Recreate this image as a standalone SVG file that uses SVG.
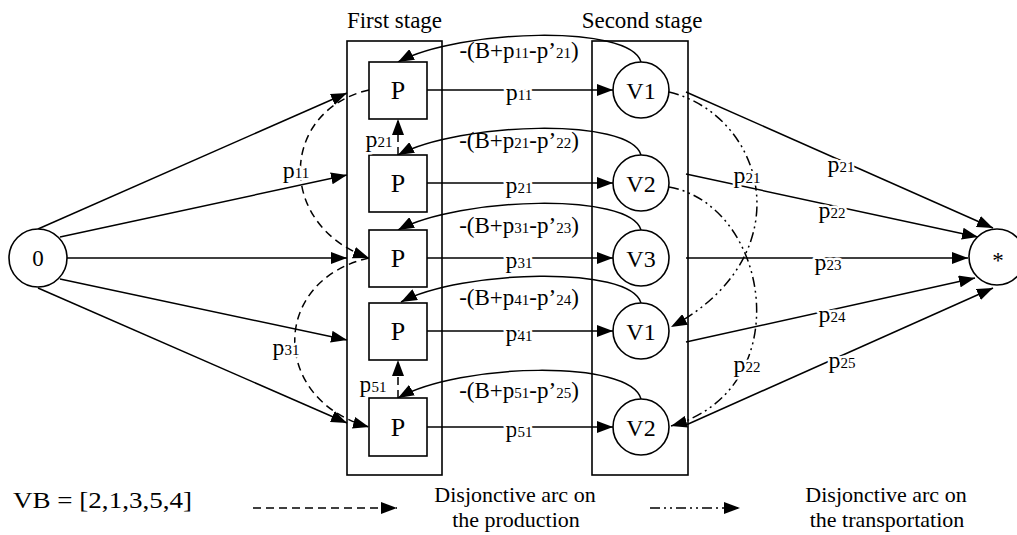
<svg xmlns="http://www.w3.org/2000/svg" width="1017" height="535" viewBox="0 0 1017 535">
<style>
text{font-family:"Liberation Serif","Times New Roman",serif;fill:#000}
.t{font-size:23px}
.m{font-size:24px}
.n{font-size:26px}
.s{font-size:15px}
.l{font-size:22px}
.h{stroke:#fff;stroke-width:5px;paint-order:stroke;stroke-linejoin:round}
.box{fill:none;stroke:#000;stroke-width:1.6}
.nd{fill:#fff;stroke:#000;stroke-width:1.6}
.c{fill:none;stroke:#000;stroke-width:1.5}
.d{stroke-dasharray:8 5}
.dd{stroke-dasharray:10 4 2 4 2 4}
</style>
<defs>
<marker id="ah" viewBox="0 0 16 12" refX="16" refY="6" markerWidth="16" markerHeight="12" markerUnits="userSpaceOnUse" orient="auto"><path d="M0,0 L16,6 L0,12 z" fill="#000"/></marker>
</defs>
<rect width="1017" height="535" fill="#fff"/>
<g id="stage1"><rect class="box" x="347" y="41" width="95" height="434"/><text class="t" x="394.5" y="28" text-anchor="middle">First stage</text></g>
<g id="stage2"><rect class="box" x="592" y="41" width="96" height="434"/><text class="t" x="642" y="28" text-anchor="middle">Second stage</text></g>
<g id="connectors">
<path class="c" d="M38,229 L347,93" marker-end="url(#ah)"/>
<path class="c" d="M60,237 L347,175" marker-end="url(#ah)"/>
<path class="c" d="M67,258 L347,258" marker-end="url(#ah)"/>
<path class="c" d="M60,279 L347,340" marker-end="url(#ah)"/>
<path class="c" d="M38,288 L347,423" marker-end="url(#ah)"/>
<path class="c d" d="M369,90 C280,110 275,225 369,258" marker-end="url(#ah)"/>
<path class="c d" d="M369,258 C270,280 270,400 369,427" marker-end="url(#ah)"/>
<path class="c d" d="M398,155 L398,119" marker-end="url(#ah)"/>
<path class="c d" d="M398,398 L398,360" marker-end="url(#ah)"/>
<path class="c" d="M427,90 L613,90" marker-end="url(#ah)"/>
<path class="c" d="M427,183 L613,183" marker-end="url(#ah)"/>
<path class="c" d="M427,258 L613,258" marker-end="url(#ah)"/>
<path class="c" d="M427,331 L613,331" marker-end="url(#ah)"/>
<path class="c" d="M427,427 L613,427" marker-end="url(#ah)"/>
<path class="c" d="M641,62 C630,24 460,29 398,62" marker-end="url(#ah)"/>
<path class="c" d="M641,155 C630,117 460,122 398,155" marker-end="url(#ah)"/>
<path class="c" d="M641,230 C630,192 460,197 398,230" marker-end="url(#ah)"/>
<path class="c" d="M641,303 C630,265 462,270 401,302" marker-end="url(#ah)"/>
<path class="c" d="M641,399 C630,359 460,363 398,398" marker-end="url(#ah)"/>
<path class="c dd" d="M669,92 C765,115 805,255 671,327" marker-end="url(#ah)"/>
<path class="c dd" d="M669,187 C770,205 800,390 671,426" marker-end="url(#ah)"/>
<path class="c" d="M686,92 L993,228" marker-end="url(#ah)"/>
<path class="c" d="M686,174 L978,237" marker-end="url(#ah)"/>
<path class="c" d="M686,258 L968,258" marker-end="url(#ah)"/>
<path class="c" d="M686,342 L975,278" marker-end="url(#ah)"/>
<path class="c" d="M686,425 L993,288" marker-end="url(#ah)"/>
</g>
<g id="node-0"><circle class="nd" cx="38" cy="258" r="29"/><text class="t" x="38" y="266" text-anchor="middle">0</text></g>
<g id="node-P1"><rect class="nd" x="369" y="62" width="58" height="57"/><text class="n" x="398" y="99" text-anchor="middle">P</text></g>
<g id="node-P2"><rect class="nd" x="369" y="155" width="58" height="57"/><text class="n" x="398" y="192" text-anchor="middle">P</text></g>
<g id="node-P3"><rect class="nd" x="369" y="230" width="58" height="57"/><text class="n" x="398" y="267" text-anchor="middle">P</text></g>
<g id="node-P4"><rect class="nd" x="369" y="303" width="58" height="57"/><text class="n" x="398" y="340" text-anchor="middle">P</text></g>
<g id="node-P5"><rect class="nd" x="369" y="398" width="58" height="58"/><text class="n" x="398" y="436" text-anchor="middle">P</text></g>
<g id="node-V1a"><circle class="nd" cx="641" cy="90" r="28"/><text class="m" x="641" y="99" text-anchor="middle">V1</text></g>
<g id="node-V2a"><circle class="nd" cx="641" cy="183" r="28"/><text class="m" x="641" y="192" text-anchor="middle">V2</text></g>
<g id="node-V3"><circle class="nd" cx="641" cy="258" r="28"/><text class="m" x="641" y="267" text-anchor="middle">V3</text></g>
<g id="node-V1b"><circle class="nd" cx="641" cy="331" r="28"/><text class="m" x="641" y="340" text-anchor="middle">V1</text></g>
<g id="node-V2b"><circle class="nd" cx="641" cy="427" r="28"/><text class="m" x="641" y="436" text-anchor="middle">V2</text></g>
<g id="node-star"><circle class="nd" cx="997" cy="257" r="28"/><text class="t" x="998" y="268" text-anchor="middle">*</text></g>
<g id="labels">
<text class="m h" x="296" y="178" text-anchor="middle">p<tspan class="s">11</tspan></text>
<text class="m h" x="286" y="355" text-anchor="middle">p<tspan class="s">31</tspan></text>
<text class="m h" x="379" y="147" text-anchor="middle">p<tspan class="s">21</tspan></text>
<text class="m h" x="373" y="392" text-anchor="middle">p<tspan class="s">51</tspan></text>
<text class="m h" x="519" y="100" text-anchor="middle">p<tspan class="s">11</tspan></text>
<text class="m h" x="519" y="193" text-anchor="middle">p<tspan class="s">21</tspan></text>
<text class="m h" x="519" y="268" text-anchor="middle">p<tspan class="s">31</tspan></text>
<text class="m h" x="519" y="341" text-anchor="middle">p<tspan class="s">41</tspan></text>
<text class="m h" x="519" y="437" text-anchor="middle">p<tspan class="s">51</tspan></text>
<text class="t" x="519" y="58" text-anchor="middle">-(B+p<tspan class="s">11</tspan>-p’<tspan class="s">21</tspan>)</text>
<text class="t" x="519" y="148" text-anchor="middle">-(B+p<tspan class="s">21</tspan>-p’<tspan class="s">22</tspan>)</text>
<text class="t" x="519" y="233" text-anchor="middle">-(B+p<tspan class="s">31</tspan>-p’<tspan class="s">23</tspan>)</text>
<text class="t" x="519" y="305" text-anchor="middle">-(B+p<tspan class="s">41</tspan>-p’<tspan class="s">24</tspan>)</text>
<text class="t" x="519" y="398" text-anchor="middle">-(B+p<tspan class="s">51</tspan>-p’<tspan class="s">25</tspan>)</text>
<text class="m h" x="747" y="183" text-anchor="middle">p<tspan class="s">21</tspan></text>
<text class="m h" x="747" y="372" text-anchor="middle">p<tspan class="s">22</tspan></text>
<text class="m h" x="841" y="172" text-anchor="middle">p<tspan class="s">21</tspan></text>
<text class="m h" x="832" y="218" text-anchor="middle">p<tspan class="s">22</tspan></text>
<text class="m h" x="828" y="270" text-anchor="middle">p<tspan class="s">23</tspan></text>
<text class="m h" x="832" y="322" text-anchor="middle">p<tspan class="s">24</tspan></text>
<text class="m h" x="842" y="368" text-anchor="middle">p<tspan class="s">25</tspan></text>
</g>
<g id="legend">
<text class="m" x="13" y="508" textLength="179" lengthAdjust="spacingAndGlyphs">VB = [2,1,3,5,4]</text>
<path class="c d" d="M253,508 L397,508" marker-end="url(#ah)"/>
<text class="l" x="515" y="502" text-anchor="middle">Disjonctive arc on</text>
<text class="l" x="516" y="527" text-anchor="middle">the production</text>
<path class="c dd" d="M650,508 L740,508" marker-end="url(#ah)"/>
<text class="l" x="886" y="502" text-anchor="middle">Disjonctive arc on</text>
<text class="l" x="887" y="527" text-anchor="middle">the transportation</text>
</g>
</svg>
